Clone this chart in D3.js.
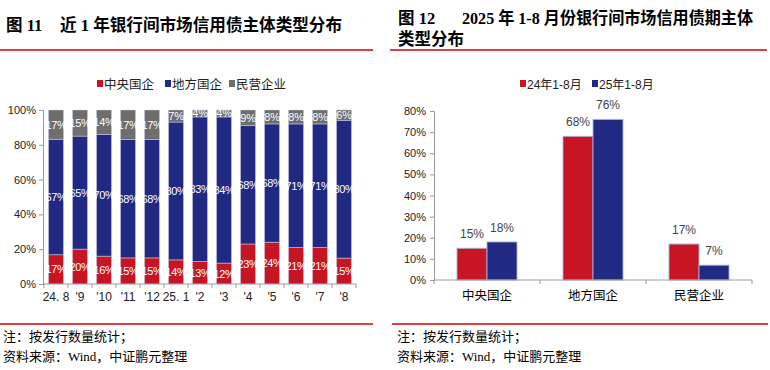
<!DOCTYPE html>
<html><head><meta charset="utf-8">
<script src="https://cdn.jsdelivr.net/npm/d3@7"></script>
<style>
body{margin:0;background:#fff;}
svg{display:block;}
</style></head>
<body>
<svg id="c" width="770" height="370"></svg>
<script>
// ---- Data: left chart (Fig 11) ----
const months = ["24. 8","'9","'10","'11","'12","25. 1","'2","'3","'4","'5","'6","'7","'8"];
const leftSeries = ["中央国企","地方国企","民营企业"];
const central = [17,20,16,15,15,14,13,12,23,24,21,21,15];
const local   = [67,65,70,68,68,80,83,84,68,68,71,71,80];
const privateE= [17,15,14,17,17,7,4,4,9,8,8,8,6];
const leftTicks = [0,0.2,0.4,0.6,0.8,1.0];

// ---- Data: right chart (Fig 12) ----
const types = ["中央国企","地方国企","民营企业"];
const periods = ["24年1-8月","25年1-8月"];
const y2024 = [15,68,17];
const y2025 = [18,76,7];
const rightTicks = [0,10,20,30,40,50,60,70,80];

const colors = ["#C71523","#202A82","#6E6E6E"];
const svg = d3.select("#c");
const sansCJK = "'Liberation Sans','Noto Sans CJK SC',sans-serif";
const titleFont = "'Liberation Serif','Noto Sans CJK SC',serif";
const noteFont = "'Liberation Serif','Noto Sans CJK SC',serif";

// Titles
const t1 = svg.append("text").attr("font-family",titleFont).attr("font-weight","bold").attr("font-size",16.5).attr("fill","#000");
t1.append("tspan").attr("x",6).attr("y",31).text("图 11");
t1.append("tspan").attr("x",60).attr("y",31).attr("textLength",282).attr("lengthAdjust","spacingAndGlyphs").text("近 1 年银行间市场信用债主体类型分布");
const t2 = svg.append("text").attr("font-family",titleFont).attr("font-weight","bold").attr("font-size",16.5).attr("fill","#000");
t2.append("tspan").attr("x",398).attr("y",24).text("图 12");
t2.append("tspan").attr("x",462).attr("y",24).attr("textLength",291).attr("lengthAdjust","spacingAndGlyphs").text("2025 年 1-8 月份银行间市场信用债期主体");
t2.append("tspan").attr("x",398).attr("y",45).text("类型分布");

// separator lines
[[0,373,50],[390,767,50],[0,373,324],[392,768,324]].forEach(([a,b,y])=>{
  svg.append("line").attr("x1",a).attr("x2",b).attr("y1",y).attr("y2",y).attr("stroke","#D00000").attr("stroke-width",1.5);
});

// footnotes
[[3],[397]].forEach(([x])=>{
  svg.append("text").attr("x",x).attr("y",341).attr("font-family",noteFont).attr("font-size",13).attr("fill","#000").text("注：按发行数量统计；");
  svg.append("text").attr("x",x).attr("y",361).attr("font-family",noteFont).attr("font-size",13).attr("fill","#000").text("资料来源：Wind，中证鹏元整理");
});

const axisColor = "#9a9a9a";

// ---------- Left chart ----------
{
  const x = d3.scaleBand().domain(months).range([44,356]).paddingInner(0.375).paddingOuter(0.1875);
  const y = d3.scaleLinear().domain([0,1]).range([284,110]);
  const rows = months.map((m,i)=>({m, "中央国企":central[i], "地方国企":local[i], "民营企业":privateE[i]}));
  const stack = d3.stack().keys(leftSeries).offset(d3.stackOffsetExpand)(rows);
  const g = svg.append("g");
  stack.forEach((s,si)=>{
    g.selectAll(null).data(s).enter().append("rect")
      .attr("x",d=>x(d.data.m)).attr("width",x.bandwidth())
      .attr("y",d=>y(d[1])).attr("height",d=>y(d[0])-y(d[1]))
      .attr("fill",colors[si]).attr("stroke","rgba(200,200,225,0.7)").attr("stroke-width",0.8);
    g.selectAll(null).data(s).enter().append("text")
      .attr("x",d=>x(d.data.m)+x.bandwidth()/2).attr("y",d=>(y(d[0])+y(d[1]))/2+4)
      .attr("text-anchor","middle").attr("font-family",sansCJK).attr("font-size",11).attr("fill","#fff")
      .attr("letter-spacing",-0.3)
      .text(d=>d.data[leftSeries[si]]+"%");
  });
  // y axis
  const ya = svg.append("g").attr("transform","translate(43,0)")
    .call(d3.axisLeft(y).tickValues(leftTicks).tickFormat(d3.format(".0%")).tickSize(4).tickPadding(3));
  ya.select(".domain").attr("stroke",axisColor);
  ya.selectAll(".tick line").attr("stroke",axisColor);
  ya.selectAll("text").attr("font-family",sansCJK).attr("font-size",11).attr("fill","#222");
  // x axis
  const xa = svg.append("g").attr("transform","translate(0,284)");
  xa.append("line").attr("x1",43).attr("x2",356).attr("stroke",axisColor);
  const bounds = months.map((m,i)=>x(m)-x.step()*x.paddingInner()/2).concat([356]);
  xa.selectAll(null).data(bounds).enter().append("line").attr("x1",d=>d).attr("x2",d=>d).attr("y1",0).attr("y2",4).attr("stroke",axisColor);
  xa.selectAll(null).data(months).enter().append("text")
    .attr("x",d=>x(d)+x.bandwidth()/2).attr("y",17).attr("text-anchor","middle")
    .attr("font-family",sansCJK).attr("font-size",12).attr("fill","#222").text(d=>d);
  // legend
  const lx = [97,165,229];
  leftSeries.forEach((s,i)=>{
    svg.append("rect").attr("x",lx[i]).attr("y",80).attr("width",6).attr("height",7).attr("fill",colors[i]);
    svg.append("text").attr("x",lx[i]+7).attr("y",89).attr("font-family",sansCJK).attr("font-size",12.5).attr("fill","#222").text(s);
  });
}

// ---------- Right chart ----------
{
  const x = d3.scaleBand().domain(types).range([434,752]);
  const xi = d3.scaleBand().domain(periods).range([0,60]);
  const y = d3.scaleLinear().domain([0,80]).range([280,111]);
  const vals = [y2024,y2025];
  const g = svg.append("g");
  periods.forEach((p,pi)=>{
    g.selectAll(null).data(types).enter().append("rect")
      .attr("x",(d)=>x(d)+(x.bandwidth()-60)/2+xi(p)).attr("width",xi.bandwidth())
      .attr("y",(d,i)=>y(vals[pi][i])).attr("height",(d,i)=>280-y(vals[pi][i]))
      .attr("fill",colors[pi]).attr("stroke","rgba(170,172,215,0.9)").attr("stroke-width",1);
    g.selectAll(null).data(types).enter().append("text")
      .attr("x",(d)=>x(d)+(x.bandwidth()-60)/2+xi(p)+xi.bandwidth()/2)
      .attr("y",(d,i)=>y(vals[pi][i])-10)
      .attr("text-anchor","middle").attr("font-family",sansCJK).attr("font-size",12).attr("fill","#444")
      .text((d,i)=>vals[pi][i]+"%");
  });
  const ya = svg.append("g").attr("transform","translate(434,0)")
    .call(d3.axisLeft(y).tickValues(rightTicks).tickFormat(d=>d+"%").tickSize(4).tickPadding(4));
  ya.select(".domain").attr("stroke",axisColor);
  ya.selectAll(".tick line").attr("stroke",axisColor);
  ya.selectAll("text").attr("font-family",sansCJK).attr("font-size",11).attr("fill","#222");
  const xa = svg.append("g").attr("transform","translate(0,280)");
  xa.append("line").attr("x1",434).attr("x2",752).attr("stroke",axisColor);
  const bounds = types.map(t=>x(t)).concat([752]);
  xa.selectAll(null).data(bounds).enter().append("line").attr("x1",d=>d).attr("x2",d=>d).attr("y1",0).attr("y2",4).attr("stroke",axisColor);
  xa.selectAll(null).data(types).enter().append("text")
    .attr("x",d=>x(d)+x.bandwidth()/2).attr("y",20).attr("text-anchor","middle")
    .attr("font-family",sansCJK).attr("font-size",12.5).attr("fill","#000").text(d=>d);
  const lx = [520,592];
  periods.forEach((p,i)=>{
    svg.append("rect").attr("x",lx[i]).attr("y",80).attr("width",6).attr("height",7).attr("fill",colors[i]);
    svg.append("text").attr("x",lx[i]+7).attr("y",89).attr("font-family",sansCJK).attr("font-size",12).attr("fill","#222").text(p);
  });
}
</script>
</body></html>
